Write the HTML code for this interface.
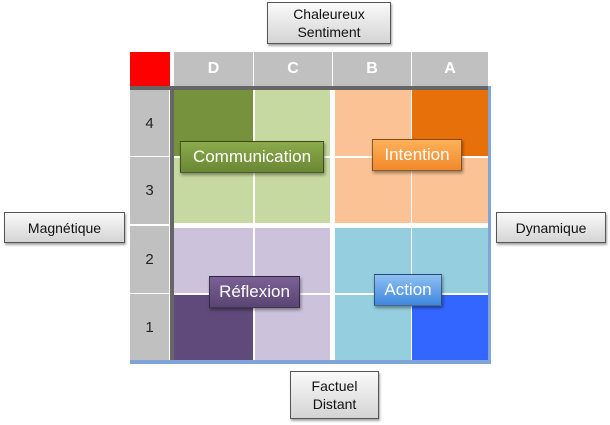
<!DOCTYPE html>
<html><head><meta charset="utf-8"><style>
body{margin:0;width:610px;height:425px;background:#fff;position:relative;overflow:hidden;font-family:"Liberation Sans",sans-serif}
div{position:absolute;box-sizing:border-box}
.btn{background:linear-gradient(#fafafa,#d4d4d4);border:1px solid #555;box-shadow:1px 2px 2px rgba(0,0,0,.35);display:flex;align-items:center;justify-content:center;text-align:center;font-size:14px;color:#111;line-height:18px}
.hd{background:#c0c0c0;color:#fff;font-weight:bold;font-size:16px;display:flex;align-items:center;justify-content:center}
.rh{background:#c0c0c0;color:#222;font-size:15px;display:flex;align-items:center;justify-content:center}
.lab{color:#fff;font-size:17px;display:flex;align-items:center;justify-content:center;border:1px solid rgba(0,0,0,.45);box-shadow:1px 2px 3px rgba(0,0,0,.4)}
</style></head><body>
<div class="btn" style="left:267px;top:2px;width:124px;height:42px">Chaleureux<br>Sentiment</div>
<div class="btn" style="left:4px;top:212px;width:121px;height:31px">Magnétique</div>
<div class="btn" style="left:496px;top:212px;width:110px;height:31px">Dynamique</div>
<div class="btn" style="left:290px;top:371px;width:89px;height:48px">Factuel<br>Distant</div>

<div style="left:130px;top:52px;width:40px;height:34px;background:#f00"></div>
<div class="hd" style="left:174px;top:52px;width:79px;height:34px">D</div>
<div class="hd" style="left:254px;top:52px;width:78px;height:34px">C</div>
<div class="hd" style="left:333px;top:52px;width:78px;height:34px">B</div>
<div class="hd" style="left:412px;top:52px;width:76px;height:34px">A</div>

<div style="left:130px;top:86px;width:358px;height:4px;background:#666"></div>
<div style="left:170px;top:86px;width:4px;height:274px;background:#666"></div>
<div class="rh" style="left:130px;top:90px;width:39px;height:66px">4</div>
<div class="rh" style="left:130px;top:157px;width:39px;height:67px">3</div>
<div class="rh" style="left:130px;top:226px;width:39px;height:67px">2</div>
<div class="rh" style="left:130px;top:294px;width:39px;height:66px">1</div>

<div style="left:174px;top:90px;width:314px;height:270px;background:#fff"></div>
<div style="left:174px;top:90px;width:79px;height:66px;background:#76923c"></div>
<div style="left:255px;top:90px;width:75px;height:66px;background:#c6d9a0"></div>
<div style="left:174px;top:158px;width:79px;height:65px;background:#c6d9a0"></div>
<div style="left:255px;top:158px;width:75px;height:65px;background:#c6d9a0"></div>
<div style="left:335px;top:90px;width:76px;height:66px;background:#fbc295"></div>
<div style="left:412px;top:90px;width:76px;height:66px;background:#e8700a"></div>
<div style="left:335px;top:158px;width:76px;height:65px;background:#fbc295"></div>
<div style="left:412px;top:158px;width:76px;height:65px;background:#fbc295"></div>
<div style="left:174px;top:228px;width:79px;height:65px;background:#ccc2dc"></div>
<div style="left:255px;top:228px;width:75px;height:65px;background:#ccc2dc"></div>
<div style="left:174px;top:295px;width:79px;height:65px;background:#604a7b"></div>
<div style="left:255px;top:295px;width:75px;height:65px;background:#ccc2dc"></div>
<div style="left:335px;top:228px;width:76px;height:65px;background:#95cfdf"></div>
<div style="left:412px;top:228px;width:76px;height:65px;background:#95cfdf"></div>
<div style="left:335px;top:295px;width:76px;height:65px;background:#95cfdf"></div>
<div style="left:412px;top:295px;width:76px;height:65px;background:#3366ff"></div>
<div style="left:488px;top:86px;width:3px;height:278px;background:#7fa4d6"></div>
<div style="left:130px;top:360px;width:361px;height:4px;background:#7fa4d6"></div>

<div class="lab" style="left:180px;top:141px;width:144px;height:32px;background:linear-gradient(#8bab4c,#6a8734)">Communication</div>
<div class="lab" style="left:372px;top:139px;width:90px;height:32px;background:linear-gradient(#fdb15a,#f2892c)">Intention</div>
<div class="lab" style="left:209px;top:276px;width:91px;height:32px;background:linear-gradient(#7b6196,#5a4573)">Réflexion</div>
<div class="lab" style="left:374px;top:274px;width:68px;height:32px;background:linear-gradient(#8fc1f2,#3f86dd)">Action</div>
</body></html>
